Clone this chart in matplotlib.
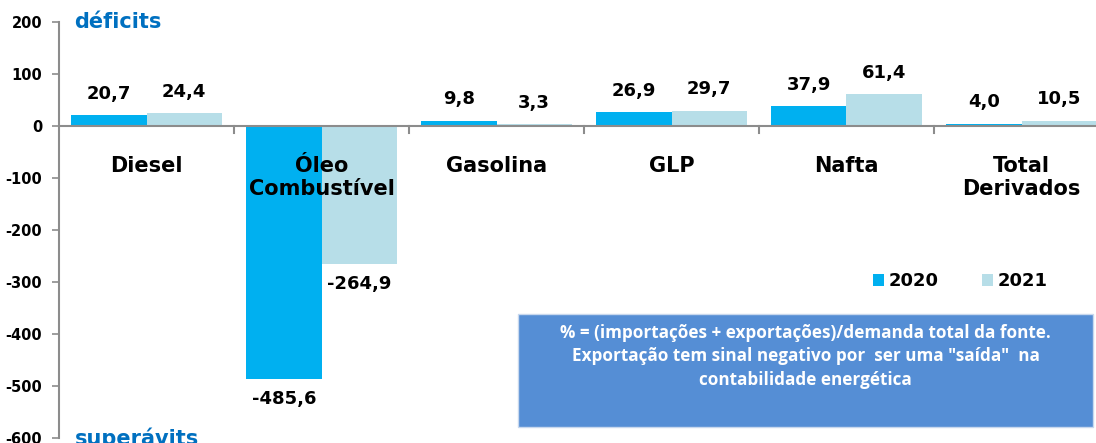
import numpy as np
import matplotlib
matplotlib.use("Agg")
import matplotlib.pyplot as plt

plt.rcParams["axes.unicode_minus"] = False

categories = ["Diesel", "Óleo\nCombustível", "Gasolina", "GLP", "Nafta", "Total\nDerivados"]
vals_2020 = [20.7, -485.6, 9.8, 26.9, 37.9, 4.0]
vals_2021 = [24.4, -264.9, 3.3, 29.7, 61.4, 10.5]
years = ["2020", "2021"]
yticks = [200, 100, 0, -100, -200, -300, -400, -500, -600]

c20 = "#00B0F0"
c21 = "#B7DEE8"
grey = "#8C8C8C"

W, H = 1096, 443
fig = plt.figure(figsize=(W / 100, H / 100), dpi=100)
ax = fig.add_axes([59 / W, 5 / H, (W - 59) / W, 416 / H])

x = np.arange(len(categories))
bw = 0.431
b1 = ax.bar(x - bw / 2, vals_2020, bw, color=c20, label=years[0])
b2 = ax.bar(x + bw / 2, vals_2021, bw, color=c21, label=years[1])

ax.set_ylim(-600, 200)
ax.set_xlim(-0.5, -0.5 + (W - 59) / 175)
ax.set_yticks(yticks)
ax.set_yticklabels([str(t) for t in yticks], fontsize=10.5, fontweight="bold")
ax.set_xticks([])

for s in ["top", "right", "bottom"]:
    ax.spines[s].set_visible(False)
ax.spines["left"].set_color(grey)
ax.spines["left"].set_linewidth(1.5)
ax.tick_params(axis="y", length=5, color=grey, width=1.2, pad=7)

# zero line with category separators
ax.axhline(0, color=grey, lw=1.5, zorder=3)
for b in np.arange(0.5, len(categories), 1.0):
    ax.plot([b, b], [0, -14], color=grey, lw=1.5, clip_on=False, zorder=3)

for bars, vals in ((b1, vals_2020), (b2, vals_2021)):
    for r, v in zip(bars, vals):
        cx = r.get_x() + r.get_width() / 2
        txt = f"{v:.1f}".replace(".", ",")
        if v >= 0:
            ax.annotate(txt, (cx, v), xytext=(0, 9), textcoords="offset points",
                        ha="center", va="bottom", fontsize=13, fontweight="bold")
        else:
            ax.annotate(txt, (cx, v), xytext=(0, -8), textcoords="offset points",
                        ha="center", va="top", fontsize=13, fontweight="bold")

for xi, name in zip(x, categories):
    ax.text(xi, -57, name, ha="center", va="top", fontsize=15, fontweight="bold",
            linespacing=1.2)

ax.text(0.015, 200, "déficits", color="#0070C0", fontsize=15, fontweight="bold",
        va="center", ha="left", transform=ax.get_yaxis_transform())
ax.text(0.015, -600, "superávits", color="#0070C0", fontsize=15, fontweight="bold",
        va="center", ha="left", transform=ax.get_yaxis_transform())

ax.legend(loc="upper left", bbox_to_anchor=(798 / (W - 59), 1 - 234 / 416), ncol=2,
          frameon=False, prop={"weight": "bold", "size": 13}, handlelength=0.6,
          handleheight=0.6, columnspacing=2.4, handletextpad=0.25)

# note box
fig.patches.append(plt.Rectangle((518 / W, (H - 427) / H), (1093 - 518) / W, 113 / H,
                                 transform=fig.transFigure, facecolor="#558ED5",
                                 edgecolor="#C8D8EE", lw=1, zorder=5))
note = ('% = (importações + exportações)/demanda total da fonte.\n'
        'Exportação tem sinal negativo por  ser uma "saída"  na\n'
        'contabilidade energética')
fig.text((518 + 1093) / 2 / W, (H - 324) / H, note, ha="center", va="top", color="white",
         fontsize=12.3, fontweight="bold", family="Open Sans", linespacing=1.38, zorder=6)

fig.savefig("out.png", dpi=100)
